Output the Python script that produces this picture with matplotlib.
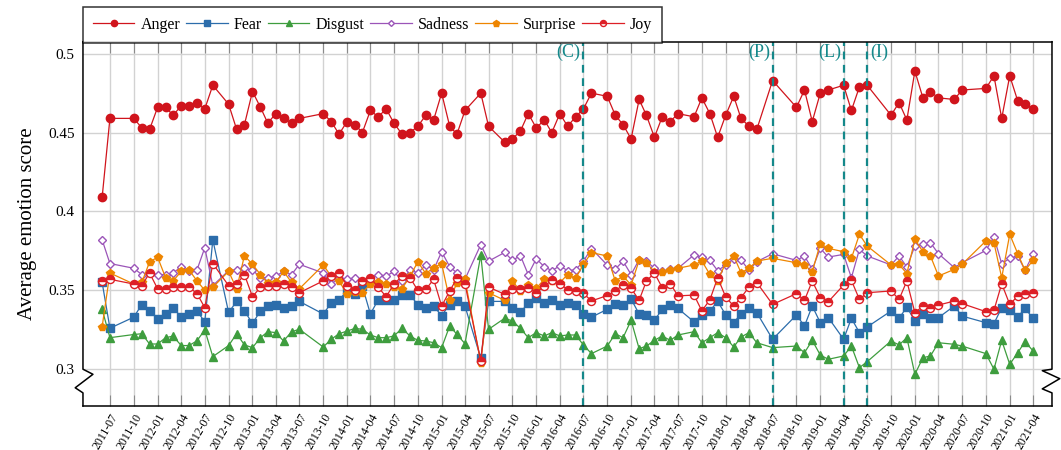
import matplotlib
matplotlib.use("Agg")
import matplotlib.pyplot as plt
from matplotlib.lines import Line2D
import pandas as pd

plt.rcParams['font.family'] = ['Liberation Serif', 'DejaVu Serif']

# months with data (gaps are real gaps in the series)
months = [
    "2011-06", "2011-07", "2011-10", "2011-11", "2011-12",
    "2012-01", "2012-02", "2012-03", "2012-04", "2012-05", "2012-06", "2012-07", "2012-08", "2012-10", "2012-11", "2012-12",
    "2013-01", "2013-02", "2013-03", "2013-04", "2013-05", "2013-06", "2013-07", "2013-10", "2013-11", "2013-12",
    "2014-01", "2014-02", "2014-03", "2014-04", "2014-05", "2014-06", "2014-07", "2014-08", "2014-09", "2014-10", "2014-11", "2014-12",
    "2015-01", "2015-02", "2015-03", "2015-04", "2015-06", "2015-07", "2015-09", "2015-10", "2015-11", "2015-12",
    "2016-01", "2016-02", "2016-03", "2016-04", "2016-05", "2016-06", "2016-07", "2016-08", "2016-10", "2016-11", "2016-12",
    "2017-01", "2017-02", "2017-03", "2017-04", "2017-05", "2017-06", "2017-07", "2017-09", "2017-10", "2017-11", "2017-12",
    "2018-01", "2018-02", "2018-03", "2018-04", "2018-05", "2018-07", "2018-10", "2018-11", "2018-12",
    "2019-01", "2019-02", "2019-04", "2019-05", "2019-06", "2019-07", "2019-10", "2019-11", "2019-12",
    "2020-01", "2020-02", "2020-03", "2020-04", "2020-06", "2020-07", "2020-10", "2020-11", "2020-12",
    "2021-01", "2021-02", "2021-03", "2021-04",
]

anger = [
    0.409, 0.459, 0.459, 0.453, 0.452,
    0.466, 0.466, 0.461, 0.467, 0.467, 0.469, 0.465, 0.480, 0.468, 0.452, 0.455,
    0.476, 0.466, 0.456, 0.462, 0.459, 0.456, 0.459, 0.462, 0.457, 0.449,
    0.457, 0.455, 0.450, 0.464, 0.460, 0.465, 0.456, 0.449, 0.450, 0.454, 0.461, 0.458,
    0.475, 0.454, 0.449, 0.464, 0.475, 0.454, 0.444, 0.446, 0.451, 0.462,
    0.453, 0.458, 0.450, 0.462, 0.454, 0.460, 0.465, 0.475, 0.473, 0.461, 0.455,
    0.446, 0.471, 0.461, 0.447, 0.460, 0.457, 0.462, 0.460, 0.472, 0.462, 0.447,
    0.461, 0.473, 0.459, 0.454, 0.452, 0.483, 0.466, 0.477, 0.457,
    0.475, 0.477, 0.480, 0.464, 0.479, 0.480, 0.461, 0.469, 0.458,
    0.489, 0.472, 0.476, 0.472, 0.471, 0.477, 0.478, 0.486, 0.459,
    0.486, 0.470, 0.468, 0.465,
]
fear = [
    0.355, 0.326, 0.333, 0.341, 0.337,
    0.332, 0.335, 0.339, 0.333, 0.335, 0.337, 0.330, 0.382, 0.336, 0.343, 0.337,
    0.329, 0.337, 0.340, 0.341, 0.339, 0.340, 0.343, 0.335, 0.342, 0.344,
    0.3495, 0.3475, 0.3527, 0.335, 0.344, 0.344, 0.344, 0.347, 0.347, 0.341, 0.339, 0.340,
    0.334, 0.341, 0.343, 0.340, 0.307, 0.343, 0.343, 0.339, 0.336, 0.342,
    0.345, 0.342, 0.344, 0.341, 0.342, 0.341, 0.335, 0.333, 0.338, 0.3415, 0.3405,
    0.3445, 0.335, 0.3345, 0.331, 0.338, 0.3405, 0.3385, 0.330, 0.3345, 0.337, 0.343,
    0.3345, 0.3295, 0.3352, 0.3386, 0.3358, 0.319, 0.3344, 0.3274, 0.3401,
    0.3295, 0.3327, 0.319, 0.3323, 0.3232, 0.3268, 0.3369, 0.3323, 0.3394,
    0.3306, 0.3352, 0.3327, 0.3327, 0.3401, 0.3337, 0.3295, 0.3289, 0.339,
    0.3373, 0.3331, 0.3386, 0.3323,
]
disgust = [
    0.338, 0.320, 0.322, 0.3225, 0.316,
    0.316, 0.320, 0.321, 0.315, 0.315, 0.318, 0.325, 0.308, 0.315, 0.3225, 0.3154,
    0.3137, 0.320, 0.3238, 0.3232, 0.3179, 0.3238, 0.3253, 0.3141, 0.319, 0.3225,
    0.3242, 0.3259, 0.3253, 0.3217, 0.320, 0.320, 0.3211, 0.3259, 0.3211, 0.3183, 0.3179, 0.3168,
    0.3137, 0.3274, 0.3221, 0.3162, 0.3724, 0.3253, 0.3323, 0.3306, 0.3259, 0.320,
    0.3232, 0.3211, 0.3232, 0.3211, 0.3217, 0.3217, 0.3154, 0.3099, 0.3147, 0.3225, 0.320,
    0.331, 0.313, 0.3147, 0.3183, 0.3211, 0.3183, 0.3217, 0.3238, 0.3168, 0.320, 0.3232,
    0.320, 0.3141, 0.3204, 0.3232, 0.3168, 0.3137, 0.3147, 0.3105, 0.3183,
    0.309, 0.3063, 0.3084, 0.3147, 0.301, 0.3048, 0.3179, 0.3154, 0.320,
    0.2968, 0.3073, 0.3084, 0.3168, 0.3158, 0.3147, 0.3099, 0.300, 0.3183,
    0.3031, 0.3105, 0.3175, 0.3116,
]
sadness = [
    0.382, 0.367, 0.364, 0.360, 0.361,
    0.360, 0.360, 0.361, 0.365, 0.362, 0.363, 0.377, 0.353, 0.3625, 0.363, 0.364,
    0.363, 0.358, 0.358, 0.359, 0.362, 0.360, 0.3665, 0.361, 0.354, 0.358,
    0.357, 0.358, 0.356, 0.358, 0.360, 0.359, 0.362, 0.356, 0.363, 0.361, 0.366, 0.363,
    0.3745, 0.365, 0.361, 0.357, 0.379, 0.3685, 0.374, 0.369, 0.372, 0.360,
    0.370, 0.365, 0.3625, 0.3655, 0.3625, 0.363, 0.3685, 0.3765, 0.366, 0.3635, 0.3685,
    0.360, 0.3695, 0.3685, 0.364, 0.362, 0.3635, 0.364, 0.3725, 0.371, 0.369, 0.3625,
    0.366, 0.370, 0.3693, 0.3627, 0.3682, 0.3732, 0.369, 0.3718, 0.3633,
    0.3766, 0.3711, 0.3728, 0.358, 0.376, 0.3718, 0.3661, 0.3718, 0.3648,
    0.3781, 0.3791, 0.3802, 0.3732, 0.3644, 0.3675, 0.3753, 0.3838, 0.3669,
    0.3703, 0.3718, 0.3627, 0.3728,
]
surprise = [
    0.327, 0.361, 0.354, 0.355, 0.368,
    0.371, 0.358, 0.356, 0.362, 0.363, 0.356, 0.350, 0.352, 0.362, 0.351, 0.372,
    0.3665, 0.360, 0.3545, 0.355, 0.362, 0.355, 0.351, 0.366, 0.359, 0.356,
    0.3475, 0.349, 0.3485, 0.354, 0.3555, 0.354, 0.352, 0.351, 0.359, 0.368, 0.3606, 0.3644,
    0.3669, 0.3437, 0.3549, 0.357, 0.3042, 0.3485, 0.3437, 0.3559, 0.3496, 0.3534,
    0.3513, 0.357, 0.356, 0.3549, 0.360, 0.3576, 0.3665, 0.3739, 0.3718, 0.3559, 0.3591,
    0.3534, 0.369, 0.3675, 0.3618, 0.3618, 0.3627, 0.364, 0.3661, 0.3686, 0.3601, 0.3559,
    0.3675, 0.3718, 0.3612, 0.3639, 0.3686, 0.3703, 0.3675, 0.3661, 0.3618,
    0.3796, 0.3766, 0.3745, 0.3703, 0.3855, 0.3781, 0.3661, 0.3665, 0.3606,
    0.3823, 0.3745, 0.3718, 0.3591, 0.3633, 0.3665, 0.3813, 0.3802, 0.358,
    0.3855, 0.3732, 0.3627, 0.369,
]
joy = [
    0.356, 0.357, 0.354, 0.353, 0.361,
    0.351, 0.351, 0.352, 0.352, 0.352, 0.348, 0.339, 0.367, 0.353, 0.354, 0.360,
    0.346, 0.352, 0.353, 0.353, 0.354, 0.352, 0.3485, 0.356, 0.359, 0.361,
    0.353, 0.350, 0.356, 0.358, 0.352, 0.346, 0.354, 0.359, 0.358, 0.350, 0.3506, 0.357,
    0.340, 0.3496, 0.3576, 0.3542, 0.3052, 0.3521, 0.3475, 0.3506, 0.3506, 0.3517,
    0.3485, 0.3527, 0.3563, 0.3542, 0.3505, 0.3496, 0.3481, 0.3433, 0.3467, 0.3496, 0.3534,
    0.3513, 0.3437, 0.3559, 0.361, 0.3517, 0.3542, 0.3465, 0.347, 0.337, 0.344, 0.358,
    0.3458, 0.340, 0.3454, 0.3521, 0.3549, 0.3411, 0.3479, 0.3437, 0.3559,
    0.3454, 0.3428, 0.3534, 0.3563, 0.3443, 0.3485, 0.3496, 0.3443, 0.3559,
    0.3358, 0.3401, 0.3386, 0.3407, 0.3432, 0.3416, 0.3365, 0.3373, 0.3542,
    0.3411, 0.3464, 0.3475, 0.3485,
]

events = ["2016-07", "2018-07", "2019-04", "2019-07"]
event_labels = ["(C)", "(P)", "(L)", "(I)"]

dates = pd.to_datetime(months)

fig = plt.figure(figsize=(10.61, 4.5), dpi=100)
ax = fig.add_axes([0.0782, 0.0978, 0.9133, 0.8095])

styles = [
    ("Anger", anger, dict(color="#d0141c", marker="o", ms=6.0)),
    ("Fear", fear, dict(color="#2c6dab", marker="s", ms=5.3)),
    ("Disgust", disgust, dict(color="#3e9d3e", marker="^", ms=5.3)),
    ("Sadness", sadness, dict(color="#9b55b8", marker="D", ms=4.0, mfc="white", mew=1.0)),
    ("Surprise", surprise, dict(color="#ee8500", marker="p", ms=6.0)),
    ("Joy", joy, dict(color="#dd1f26", marker="o", ms=5.8, fillstyle="top",
                      markerfacecoloralt="white", mew=1.0)),
]
for name, vals, st in styles:
    ax.plot(dates, vals, lw=0.9, label=name, **st)

teal = "#14888a"
for ev, lab in zip(events, event_labels):
    d = pd.Timestamp(ev)
    ax.axvline(d, color=teal, ls=(0, (3.5, 2.5)), lw=1.6)
    if lab == "(I)":
        ax.annotate(lab, (d, 0.501), xytext=(2, 0), textcoords="offset points",
                    ha="left", va="center", color=teal, fontsize=13)
    else:
        ax.annotate(lab, (d, 0.501), xytext=(-2, 0), textcoords="offset points",
                    ha="right", va="center", color=teal, fontsize=13)

ax.set_ylim(0.2767, 0.5076)
ax.set_xlim(pd.Timestamp("2011-03-19"), pd.Timestamp("2021-06-13"))

ticks = pd.date_range("2011-07-01", "2021-04-01", freq="3MS")
ax.set_xticks(ticks)
ax.set_xticklabels([t.strftime("%Y-%m") for t in ticks], rotation=60,
                   ha="right", rotation_mode="anchor", fontsize=8.5)
ax.set_yticks([0.3, 0.35, 0.4, 0.45, 0.5])
ax.set_yticklabels(["0.3", "0.35", "0.4", "0.45", "0.5"], fontsize=11)
ax.tick_params(axis="x", direction="in", length=8, color="#8a8a8a", top=True, pad=4)
ax.tick_params(axis="y", direction="in", length=0, pad=6)
ax.grid(True, color="#d2d2d2", lw=1.0)
ax.set_axisbelow(True)
ax.set_ylabel("Average emotion score", fontsize=15, labelpad=8)

# left/right spines with the "crunch" zigzag near the bottom
ax.spines["left"].set_visible(False)
ax.spines["right"].set_visible(False)
for s in ("top", "bottom"):
    ax.spines[s].set_linewidth(1.1)
left_x = [0, 0, 0.0103, -0.008, 0, 0]
left_y = [1, 0.101, 0.087, 0.05, 0.036, 0]
right_x = [1, 1, 0.99, 1.008, 0.99, 1, 1]
right_y = [1, 0.101, 0.097, 0.075, 0.047, 0.036, 0]
ax.add_line(Line2D(left_x, left_y, transform=ax.transAxes, color="black", lw=1.1, clip_on=False))
ax.add_line(Line2D(right_x, right_y, transform=ax.transAxes, color="black", lw=1.1, clip_on=False))

leg = fig.legend(loc="upper left", bbox_to_anchor=(0.0782, 0.985), ncol=6,
                 fontsize=11.5, frameon=True, fancybox=False, edgecolor="black",
                 borderaxespad=0, handlelength=2.6, columnspacing=0.35,
                 handletextpad=0.4, borderpad=0.62, markerscale=0.75)
leg.get_frame().set_linewidth(1.1)

fig.savefig("out.png", dpi=100)
